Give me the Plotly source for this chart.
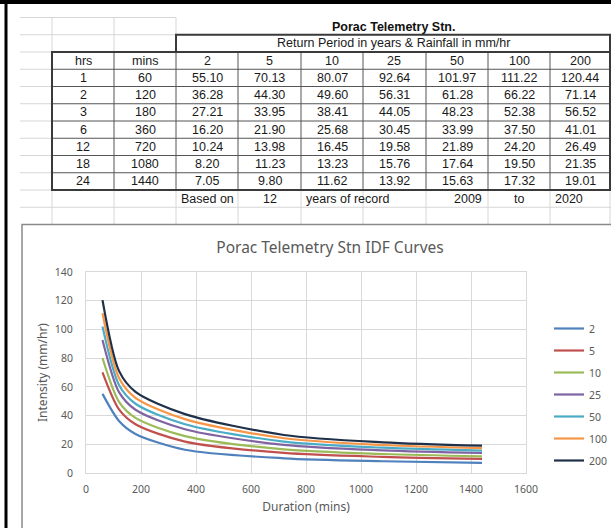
import plotly.graph_objects as go

# ---------------- data ----------------
station = "Porac Telemetry Stn."
subtitle = "Return Period in years & Rainfall in mm/hr"
chart_title = "Porac Telemetry Stn IDF Curves"
hrs = [1, 2, 3, 6, 12, 18, 24]
mins = [60, 120, 180, 360, 720, 1080, 1440]
return_periods = [2, 5, 10, 25, 50, 100, 200]
rp2 = [55.10, 36.28, 27.21, 16.20, 10.24, 8.20, 7.05]
rp5 = [70.13, 44.30, 33.95, 21.90, 13.98, 11.23, 9.80]
rp10 = [80.07, 49.60, 38.41, 25.68, 16.45, 13.23, 11.62]
rp25 = [92.64, 56.31, 44.05, 30.45, 19.58, 15.76, 13.92]
rp50 = [101.97, 61.28, 48.23, 33.99, 21.89, 17.64, 15.63]
rp100 = [111.22, 66.22, 52.38, 37.50, 24.20, 19.50, 17.32]
rp200 = [120.44, 71.14, 56.52, 41.01, 26.49, 21.35, 19.01]
series = [rp2, rp5, rp10, rp25, rp50, rp100, rp200]
record_years = 12
year_from, year_to = 2009, 2020

# ---------------- styling / layout ----------------
W, H = 611, 528
colors = ["#4F81BD", "#C0504D", "#9BBB59", "#8064A2", "#4BACC6", "#F79646", "#1F3049"]
col_edges = [52, 114, 176, 238, 301, 363, 426, 488, 550, 610]
row_h = 17.25
tbl_top = 52.0
row_edges = [tbl_top + k * row_h for k in range(9)]   # header + 7 rows
rp_top = tbl_top - row_h
st_top = rp_top - row_h
based_top = row_edges[-1]
based_bot = based_top + row_h
next_bot = based_bot + row_h

def px(x):
    return x / W

def py(y):
    return 1 - y / H

shapes = []
def line(x0, y0, x1, y1, color, width):
    shapes.append(dict(type="line", xref="paper", yref="paper",
                       x0=px(x0), y0=py(y0), x1=px(x1), y1=py(y1),
                       line=dict(color=color, width=width), layer="below"))

def rect(x0, y0, x1, y1, color, width, fill=None):
    d = dict(type="rect", xref="paper", yref="paper",
             x0=px(x0), y0=py(y0), x1=px(x1), y1=py(y1),
             line=dict(color=color, width=width), layer="below")
    if fill:
        d["fillcolor"] = fill
    shapes.append(d)

grid_c = "#d6d6d6"
# spreadsheet light gridlines
line(20, st_top, 176, st_top, grid_c, 1)
line(20, rp_top, 176, rp_top, grid_c, 1)
for y in row_edges:
    line(20, y, 52, y, grid_c, 1)
line(20, based_bot, 611, based_bot, grid_c, 1)
for x in [52, 114]:
    line(x, st_top, x, tbl_top, grid_c, 1)
line(176, st_top, 176, rp_top, grid_c, 1)
for x in col_edges:
    line(x, based_top, x, next_bot, grid_c, 1)

# table borders
dark = "#3a3a3a"
for x in col_edges[1:-1]:
    line(x, tbl_top, x, based_top, "#555555", 1)
for y in row_edges[1:-1]:
    line(52, y, 610, y, "#555555", 1)
rect(176, rp_top, 610, tbl_top, dark, 2)
rect(52, tbl_top, 610, based_top, dark, 2)

# chart box
rect(22, next_bot, 640, 560, "#8a8a8a", 1.5, fill="white")

# outer black frame
line(0, 2, 611, 2, "black", 4)
line(6, 0, 6, 528, "black", 3)

# ---------------- table text ----------------
ann = []
TS = 12.5
tfont = dict(family="Liberation Sans, Arial", size=TS, color="#1a1a1a")
def cell(text, x, y, anchor="center", bold=False):
    f = dict(tfont)
    if bold:
        text = "<b>" + text + "</b>"
        f["color"] = "#111111"
    ann.append(dict(text=text, xref="paper", yref="paper", x=px(x), y=py(y),
                    xanchor=anchor, yanchor="middle", showarrow=False, font=f))

def ccx(i):
    return (col_edges[i] + col_edges[i + 1]) / 2

def ccy(r):
    return tbl_top + row_h * (r + 0.5)

cell(station, (176 + 610) / 2, st_top + row_h / 2 + 0.5, bold=True)
cell(subtitle, (176 + 610) / 2, rp_top + row_h / 2)
headers = ["hrs", "mins"] + [str(r) for r in return_periods]
for i, h in enumerate(headers):
    cell(h, ccx(i), ccy(0))
for r in range(len(hrs)):
    cell(str(hrs[r]), ccx(0), ccy(r + 1))
    cell(str(mins[r]), ccx(1), ccy(r + 1))
    for j, s in enumerate(series):
        cell(f"{s[r]:.2f}", ccx(j + 2), ccy(r + 1))
yb = based_top + row_h / 2
cell("Based on", ccx(2), yb)
cell(str(record_years), ccx(3), yb)
cell("years of record", col_edges[4] + 3, yb, anchor="left")
cell(str(year_from), col_edges[7] - 4, yb, anchor="right")
cell("to", ccx(7), yb)
cell(str(year_to), col_edges[8] + 3, yb, anchor="left")

# ---------------- chart ----------------
fig = go.Figure()
for rp, s, c in zip(return_periods, series, colors):
    fig.add_trace(go.Scatter(x=mins, y=s, mode="lines", name=str(rp),
                             line=dict(color=c, width=2.2, shape="spline", smoothing=0.8),
                             legendgroup=str(rp)))

cfont = "Noto Sans, Open Sans, sans-serif"
gray = "#595959"
plot_l, plot_r, plot_t, plot_b = 86, 526, 272, 473
fig.update_layout(
    template="none",
    width=W, height=H, autosize=False,
    margin=dict(l=0, r=0, t=0, b=0, pad=0, autoexpand=False),
    paper_bgcolor="white", plot_bgcolor="white",
    shapes=shapes, annotations=ann,
    title=dict(text=chart_title, x=px(330), xanchor="center", y=py(248), yanchor="middle",
               font=dict(family=cfont, size=15.5, color=gray)),
    xaxis=dict(domain=[px(plot_l), px(plot_r)], range=[0, 1600], dtick=200, tick0=0,
               automargin=False,
               showgrid=True, gridcolor="#d9d9d9", gridwidth=1, zeroline=False,
               showline=True, linecolor="#d9d9d9", linewidth=1, mirror=True,
               ticks="", ticklabelstandoff=6,
               tickfont=dict(family=cfont, size=10.5, color=gray),
               title=dict(text="Duration (mins)", standoff=8,
                          font=dict(family=cfont, size=12, color=gray))),
    yaxis=dict(domain=[py(plot_b), py(plot_t)], range=[0, 140], dtick=20, tick0=0,
               automargin=False,
               showgrid=True, gridcolor="#d9d9d9", gridwidth=1, zeroline=False,
               showline=True, linecolor="#d9d9d9", linewidth=1, mirror=True,
               ticks="", ticklabelstandoff=10,
               tickfont=dict(family=cfont, size=10.5, color=gray),
               title=dict(text="Intensity (mm/hr)", standoff=4,
                          font=dict(family=cfont, size=12, color=gray))),
    legend=dict(x=px(549), xanchor="left", y=py(314), yanchor="top",
                traceorder="grouped", tracegroupgap=3, bgcolor="rgba(0,0,0,0)",
                font=dict(family=cfont, size=10.5, color=gray)),
    showlegend=True,
)
fig.write_html("out.html", config={"displayModeBar": False},
               post_script="document.body.style.margin='0px';")
